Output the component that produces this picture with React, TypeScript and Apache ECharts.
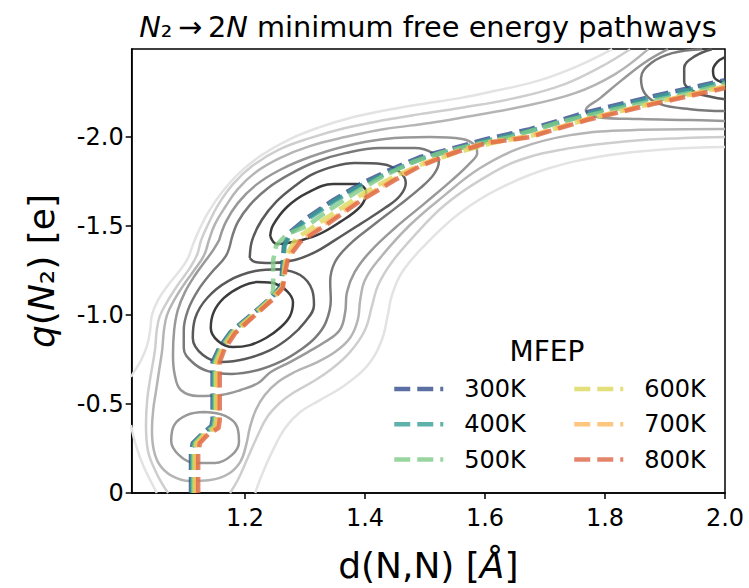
import { useEffect, useRef } from "react";
import * as echarts from "echarts";

const FONT = "DejaVu Sans";

const xTicks = [1.2, 1.4, 1.6, 1.8, 2.0];
const yTicks = [-2.0, -1.5, -1.0, -0.5, 0];

const temperatures = ["300K", "400K", "500K", "600K", "700K", "800K"];
const pathColors = ["#324b8b", "#379f95", "#80cb87", "#dcd85b", "#feb95f", "#dd6646"];

const path300K = [[1.11,0],[1.11,-0.23],[1.113,-0.281],[1.13,-0.337],[1.144,-0.376],[1.146,-0.41],[1.146,-0.736],[1.157,-0.815],[1.176,-0.904],[1.21,-1.0],[1.243,-1.096],[1.26,-1.163],[1.263,-1.298],[1.265,-1.393],[1.275,-1.466],[1.303,-1.545],[1.347,-1.646],[1.392,-1.736],[1.437,-1.809],[1.492,-1.888],[1.547,-1.938],[1.603,-1.989],[1.675,-2.045],[1.77,-2.14],[1.88,-2.23],[2.0,-2.32]];
const path400K = [[1.112,0],[1.112,-0.23],[1.115,-0.28],[1.131,-0.336],[1.146,-0.374],[1.148,-0.41],[1.148,-0.736],[1.159,-0.813],[1.177,-0.903],[1.211,-0.998],[1.244,-1.094],[1.261,-1.16],[1.264,-1.296],[1.266,-1.39],[1.277,-1.462],[1.305,-1.54],[1.349,-1.64],[1.394,-1.73],[1.44,-1.802],[1.495,-1.88],[1.55,-1.93],[1.606,-1.982],[1.678,-2.037],[1.772,-2.13],[1.882,-2.222],[2.0,-2.31]];
const path500K = [[1.114,0],[1.114,-0.23],[1.117,-0.281],[1.133,-0.337],[1.148,-0.371],[1.15,-0.41],[1.15,-0.736],[1.16,-0.815],[1.179,-0.904],[1.212,-1.0],[1.242,-1.09],[1.247,-1.14],[1.247,-1.309],[1.252,-1.39],[1.27,-1.455],[1.303,-1.5],[1.34,-1.59],[1.385,-1.69],[1.43,-1.78],[1.48,-1.86],[1.53,-1.915],[1.585,-1.96],[1.642,-2.0],[1.725,-2.084],[1.825,-2.163],[1.942,-2.247],[2.0,-2.3]];
const path600K = [[1.116,0],[1.116,-0.23],[1.119,-0.281],[1.134,-0.335],[1.15,-0.368],[1.152,-0.41],[1.152,-0.736],[1.162,-0.812],[1.181,-0.902],[1.213,-0.997],[1.245,-1.092],[1.262,-1.157],[1.265,-1.25],[1.268,-1.33],[1.285,-1.43],[1.32,-1.51],[1.36,-1.6],[1.4,-1.69],[1.45,-1.78],[1.5,-1.855],[1.555,-1.915],[1.61,-1.965],[1.68,-2.01],[1.77,-2.1],[1.88,-2.19],[2.0,-2.285]];
const path700K = [[1.119,0],[1.119,-0.23],[1.122,-0.281],[1.136,-0.333],[1.153,-0.366],[1.155,-0.41],[1.155,-0.736],[1.164,-0.81],[1.182,-0.9],[1.214,-0.995],[1.246,-1.09],[1.262,-1.154],[1.266,-1.245],[1.27,-1.325],[1.29,-1.415],[1.333,-1.512],[1.39,-1.643],[1.445,-1.757],[1.49,-1.84],[1.545,-1.912],[1.6,-1.968],[1.673,-2.004],[1.768,-2.1],[1.878,-2.188],[2.0,-2.282]];
const path800K = [[1.122,0],[1.122,-0.23],[1.125,-0.281],[1.139,-0.331],[1.156,-0.365],[1.158,-0.41],[1.158,-0.736],[1.166,-0.809],[1.184,-0.899],[1.215,-0.994],[1.247,-1.09],[1.263,-1.152],[1.267,-1.242],[1.272,-1.32],[1.292,-1.41],[1.337,-1.511],[1.392,-1.64],[1.447,-1.753],[1.492,-1.837],[1.547,-1.91],[1.603,-1.966],[1.675,-2.0],[1.77,-2.096],[1.88,-2.185],[2.0,-2.275]];
const mfepPaths = [path300K, path400K, path500K, path600K, path700K, path800K];

// contour levels, darkest (lowest free energy) first
const contourColors = ["#3c3c3c", "#5a5a5a", "#7a7a7a", "#999999", "#b5b5b5", "#cecece", "#e3e3e3"];

const contourA1 = [[1.248,-1.18],[1.27,-1.135],[1.28,-1.073],[1.275,-0.994],[1.258,-0.927],[1.235,-0.871],[1.208,-0.831],[1.18,-0.82],[1.155,-0.854],[1.143,-0.927],[1.148,-1.017],[1.165,-1.096],[1.192,-1.157],[1.22,-1.185],[1.248,-1.18]];
const contourA2 = [[1.257,-1.258],[1.292,-1.225],[1.312,-1.14],[1.315,-1.056],[1.3,-0.961],[1.275,-0.876],[1.242,-0.803],[1.2,-0.753],[1.162,-0.736],[1.13,-0.775],[1.113,-0.871],[1.117,-0.983],[1.137,-1.096],[1.172,-1.191],[1.217,-1.247],[1.257,-1.258]];
const contourB1 = [[1.242,-1.444],[1.247,-1.506],[1.27,-1.607],[1.303,-1.685],[1.347,-1.736],[1.387,-1.736],[1.402,-1.691],[1.393,-1.612],[1.358,-1.522],[1.32,-1.449],[1.28,-1.41],[1.253,-1.399],[1.242,-1.444]];
const contourB2 = [[1.208,-1.32],[1.212,-1.421],[1.228,-1.534],[1.253,-1.64],[1.283,-1.725],[1.313,-1.792],[1.35,-1.837],[1.383,-1.854],[1.43,-1.848],[1.458,-1.803],[1.468,-1.742],[1.458,-1.669],[1.433,-1.601],[1.392,-1.511],[1.35,-1.421],[1.317,-1.354],[1.283,-1.309],[1.242,-1.292],[1.217,-1.298],[1.208,-1.32]];
const contourAB3 = [[1.177,-1.421],[1.188,-1.522],[1.208,-1.618],[1.238,-1.713],[1.275,-1.792],[1.317,-1.86],[1.367,-1.91],[1.425,-1.938],[1.483,-1.938],[1.513,-1.91],[1.523,-1.86],[1.515,-1.792],[1.492,-1.713],[1.455,-1.612],[1.412,-1.5],[1.375,-1.399],[1.35,-1.298],[1.342,-1.185],[1.343,-1.084],[1.335,-0.961],[1.318,-0.876],[1.292,-0.803],[1.262,-0.742],[1.222,-0.691],[1.178,-0.669],[1.138,-0.685],[1.112,-0.736],[1.098,-0.815],[1.098,-0.916],[1.105,-1.028],[1.122,-1.14],[1.145,-1.242],[1.168,-1.331],[1.177,-1.421]];
const contourAB4 = [[1.157,-1.421],[1.168,-1.522],[1.188,-1.629],[1.218,-1.73],[1.258,-1.815],[1.308,-1.888],[1.367,-1.949],[1.433,-1.989],[1.508,-2.0],[1.562,-1.989],[1.583,-1.955],[1.587,-1.91],[1.575,-1.854],[1.545,-1.758],[1.5,-1.629],[1.45,-1.489],[1.408,-1.354],[1.383,-1.242],[1.37,-1.129],[1.367,-1.017],[1.358,-0.916],[1.333,-0.848],[1.305,-0.792],[1.275,-0.736],[1.243,-0.68],[1.222,-0.618],[1.193,-0.579],[1.16,-0.551],[1.122,-0.545],[1.093,-0.579],[1.083,-0.663],[1.08,-0.775],[1.082,-0.916],[1.088,-1.028],[1.1,-1.129],[1.117,-1.225],[1.135,-1.309],[1.147,-1.365],[1.157,-1.421]];
const contourC4 = [[1.133,-0.455],[1.167,-0.433],[1.187,-0.371],[1.19,-0.287],[1.178,-0.213],[1.15,-0.169],[1.117,-0.169],[1.09,-0.213],[1.077,-0.292],[1.082,-0.382],[1.103,-0.438],[1.133,-0.455]];
const contourD1 = [[2.0,-2.449],[1.987,-2.421],[1.98,-2.376],[1.983,-2.331],[2.0,-2.303]];
const contourD2 = [[1.978,-2.494],[1.95,-2.455],[1.932,-2.388],[1.932,-2.309],[1.95,-2.253],[1.978,-2.225],[2.0,-2.213]];
const contourD3 = [[1.962,-2.494],[1.912,-2.472],[1.877,-2.416],[1.86,-2.331],[1.867,-2.242],[1.892,-2.185],[1.942,-2.157],[2.0,-2.146]];
const contourD4 = [[1.905,-2.494],[1.867,-2.421],[1.828,-2.32],[1.792,-2.219],[1.768,-2.152],[1.788,-2.112],[1.858,-2.101],[1.942,-2.096],[2.0,-2.09]];
const contourL5 = [[1.872,-2.494],[1.817,-2.354],[1.75,-2.247],[1.658,-2.169],[1.558,-2.107],[1.508,-2.079],[1.433,-2.045],[1.367,-2.0],[1.308,-1.949],[1.258,-1.882],[1.218,-1.803],[1.188,-1.708],[1.167,-1.607],[1.15,-1.511],[1.14,-1.421],[1.132,-1.337],[1.118,-1.264],[1.1,-1.18],[1.082,-1.084],[1.07,-1.0],[1.065,-0.916],[1.062,-0.803],[1.057,-0.691],[1.052,-0.579],[1.047,-0.466],[1.045,-0.354],[1.048,-0.242],[1.058,-0.157],[1.078,-0.096],[1.108,-0.067],[1.142,-0.073],[1.172,-0.107],[1.192,-0.174],[1.202,-0.27],[1.208,-0.365],[1.218,-0.466],[1.233,-0.551],[1.255,-0.624],[1.283,-0.68],[1.317,-0.73],[1.35,-0.792],[1.375,-0.871],[1.388,-0.972],[1.392,-1.084],[1.4,-1.197],[1.425,-1.32],[1.475,-1.506],[1.533,-1.674],[1.592,-1.826],[1.658,-1.938],[1.742,-2.011],[1.842,-2.039],[2.0,-2.045]];
const contourL6Left = [[1.842,-2.494],[1.792,-2.393],[1.733,-2.298],[1.658,-2.225],[1.558,-2.163],[1.492,-2.129],[1.433,-2.096],[1.367,-2.051],[1.308,-1.994],[1.255,-1.927],[1.212,-1.837],[1.18,-1.736],[1.155,-1.618],[1.138,-1.506],[1.127,-1.421],[1.12,-1.337],[1.108,-1.264],[1.088,-1.169],[1.07,-1.073],[1.058,-0.994],[1.053,-0.916],[1.05,-0.803],[1.043,-0.663],[1.037,-0.522],[1.035,-0.382],[1.038,-0.242],[1.05,-0.129],[1.063,-0.045],[1.072,0]];
const contourL6Right = [[1.175,0],[1.188,-0.073],[1.203,-0.185],[1.22,-0.315],[1.237,-0.427],[1.258,-0.506],[1.28,-0.562],[1.312,-0.624],[1.342,-0.691],[1.375,-0.792],[1.4,-0.916],[1.412,-1.056],[1.422,-1.169],[1.445,-1.298],[1.483,-1.449],[1.533,-1.618],[1.592,-1.758],[1.658,-1.871],[1.742,-1.938],[1.842,-1.978],[1.925,-1.994],[2.0,-2.0]];
const contourL7Left = [[1.812,-2.494],[1.758,-2.404],[1.692,-2.32],[1.608,-2.253],[1.558,-2.219],[1.492,-2.185],[1.437,-2.152],[1.375,-2.107],[1.325,-2.056],[1.275,-1.989],[1.228,-1.899],[1.192,-1.803],[1.162,-1.691],[1.138,-1.573],[1.122,-1.466],[1.113,-1.393],[1.105,-1.32],[1.092,-1.253],[1.072,-1.169],[1.055,-1.084],[1.045,-1.0],[1.042,-0.916],[1.037,-0.831],[1.027,-0.747],[1.015,-0.68],[1.01,-0.652]];
const contourL7Corner = [[1.01,-0.382],[1.018,-0.27],[1.03,-0.157],[1.042,-0.073],[1.053,0]];
const contourL7Right = [[1.217,0],[1.228,-0.101],[1.245,-0.23],[1.267,-0.365],[1.292,-0.455],[1.325,-0.522],[1.367,-0.607],[1.405,-0.719],[1.428,-0.86],[1.438,-1.0],[1.445,-1.112],[1.462,-1.242],[1.5,-1.393],[1.558,-1.573],[1.625,-1.713],[1.708,-1.826],[1.808,-1.899],[1.908,-1.933],[2.0,-1.944]];

const contourLines = [
  { level: 6, points: contourL7Left },
  { level: 6, points: contourL7Corner },
  { level: 6, points: contourL7Right },
  { level: 5, points: contourL6Left },
  { level: 5, points: contourL6Right },
  { level: 4, points: contourL5 },
  { level: 3, points: contourAB4 },
  { level: 3, points: contourC4 },
  { level: 3, points: contourD4 },
  { level: 2, points: contourAB3 },
  { level: 2, points: contourD3 },
  { level: 1, points: contourA2 },
  { level: 1, points: contourB2 },
  { level: 1, points: contourD2 },
  { level: 0, points: contourA1 },
  { level: 0, points: contourB1 },
  { level: 0, points: contourD1 },
];

export default function App() {
  const ref = useRef<HTMLDivElement>(null);

  useEffect(() => {
    if (!ref.current) return;
    const chart = echarts.init(ref.current, undefined, { renderer: "svg" });

    const contourSeries = contourLines.map((c) => ({
      type: "line",
      data: c.points,
      symbol: "none",
      showSymbol: false,
      smooth: 0.4,
      silent: true,
      z: 1,
      lineStyle: { color: contourColors[c.level], width: 2.5 },
    }));

    const pathSeries = temperatures.map((t, i) => ({
      name: t,
      type: "line",
      data: mfepPaths[i],
      symbol: "none",
      showSymbol: false,
      z: 5 + i,
      color: pathColors[i],
      itemStyle: { color: pathColors[i] },
      lineStyle: { color: pathColors[i], width: 4.5, type: [16, 7], opacity: 0.8 },
    }));

    const legendCommon = {
      orient: "vertical",
      itemWidth: 49,
      itemHeight: 10,
      itemGap: 11.3,
      padding: 0,
      selectedMode: false,
      itemStyle: { opacity: 0 },
      lineStyle: { width: 4.5, type: [16, 7], opacity: 0.8 },
      textStyle: { fontSize: 24, color: "#000", fontFamily: FONT, padding: [0, 0, 0, 16] },
    };

    chart.setOption({
      animation: false,
      backgroundColor: "#fff",
      title: {
        text: "{i|N}{n|₂\u2009→\u20092}{i|N}{n| minimum free energy pathways}",
        left: 428,
        top: 12,
        textAlign: "center",
        padding: 0,
        textStyle: {
          fontSize: 28.8,
          fontFamily: FONT,
          fontWeight: "normal",
          color: "#000",
          rich: {
            i: { fontSize: 28.8, fontFamily: FONT, fontStyle: "italic", color: "#000" },
            n: { fontSize: 28.8, fontFamily: FONT, color: "#000" },
          },
        },
      },
      grid: {
        left: 131.7,
        right: 24,
        top: 49,
        bottom: 95,
        show: true,
        borderColor: "#000",
        borderWidth: 1.5,
      },
      xAxis: {
        type: "value",
        min: 1.0112,
        max: 2.0,
        position: "bottom",
        axisLine: { show: true, onZero: false, lineStyle: { color: "#000", width: 1.5 } },
        axisTick: { show: true, length: 6, customValues: xTicks, lineStyle: { color: "#000", width: 1.5 } },
        axisLabel: {
          customValues: xTicks,
          formatter: (v: number) => v.toFixed(1),
          fontSize: 24,
          fontFamily: FONT,
          color: "#000",
          margin: 13,
        },
        splitLine: { show: false },
        name: "{n|d(N,N) [}{i|Å}{n|]}",
        nameLocation: "middle",
        nameGap: 54,
        nameTextStyle: {
          fontSize: 36,
          fontFamily: FONT,
          color: "#000",
          rich: {
            n: { fontSize: 36, fontFamily: FONT, color: "#000" },
            i: { fontSize: 36, fontFamily: FONT, fontStyle: "italic", color: "#000" },
          },
        },
      },
      yAxis: {
        type: "value",
        inverse: true,
        min: -2.495,
        max: 0,
        axisLine: { show: true, onZero: false, lineStyle: { color: "#000", width: 1.5 } },
        axisTick: { show: true, length: 6, customValues: yTicks, lineStyle: { color: "#000", width: 1.5 } },
        axisLabel: {
          customValues: yTicks,
          formatter: (v: number) => (v === 0 ? "0" : v.toFixed(1)),
          fontSize: 24,
          fontFamily: FONT,
          color: "#000",
          margin: 8,
        },
        splitLine: { show: false },
        name: "{i|q}{n|(}{i|N}{n|₂) [e]}",
        nameLocation: "middle",
        nameRotate: 90,
        nameGap: 72,
        nameTextStyle: {
          fontSize: 36,
          fontFamily: FONT,
          color: "#000",
          rich: {
            n: { fontSize: 36, fontFamily: FONT, color: "#000" },
            i: { fontSize: 36, fontFamily: FONT, fontStyle: "italic", color: "#000" },
          },
        },
      },
      legend: [
        { ...legendCommon, data: temperatures.slice(0, 3), left: 392, top: 377 },
        { ...legendCommon, data: temperatures.slice(3, 6), left: 572, top: 377 },
      ],
      graphic: [
        {
          type: "text",
          x: 547,
          y: 351,
          silent: true,
          style: {
            text: "MFEP",
            fontSize: 28,
            fontFamily: FONT,
            fill: "#000",
            align: "center",
            verticalAlign: "middle",
          },
        },
      ],
      series: [...contourSeries, ...pathSeries],
    });

    return () => chart.dispose();
  }, []);

  return (
    <div
      ref={ref}
      style={{ position: "absolute", left: 0, top: 0, width: 749, height: 588, background: "#fff" }}
    />
  );
}
